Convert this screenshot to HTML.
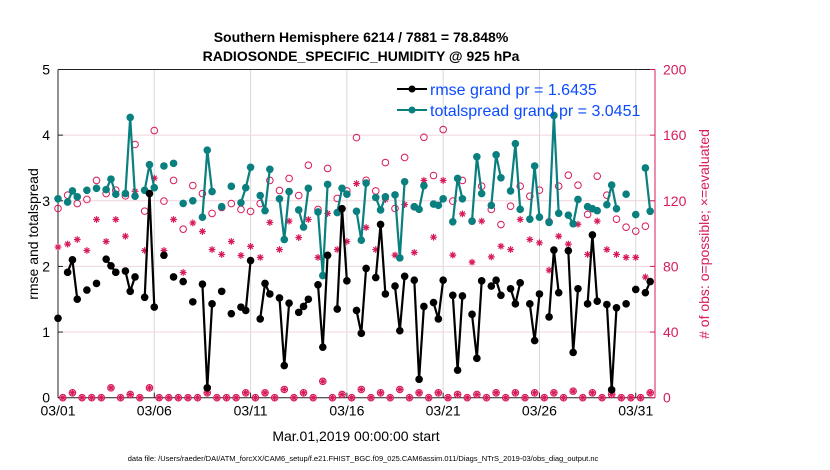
<!DOCTYPE html>
<html><head><meta charset="utf-8"><style>
body{margin:0;background:#fff;}
svg{display:block;font-family:"Liberation Sans",sans-serif;}
</style></head><body>
<svg id="chart" width="830" height="470" viewBox="0 0 830 470">
<text x="361" y="42" text-anchor="middle" font-size="14" font-weight="bold">Southern Hemisphere 6214 / 7881 = 78.848%</text>
<text x="361" y="61" text-anchor="middle" font-size="14" font-weight="bold">RADIOSONDE_SPECIFIC_HUMIDITY @ 925 hPa</text>
<text transform="translate(38,234) rotate(-90)" text-anchor="middle" font-size="14">rmse and totalspread</text>
<text transform="translate(709,234) rotate(-90)" text-anchor="middle" font-size="14" fill="#d81b5a"># of obs: o=possible; ×=evaluated</text>
<text x="356" y="441" text-anchor="middle" font-size="14">Mar.01,2019 00:00:00 start</text>
<text x="363" y="461" text-anchor="middle" font-size="7.5">data file: /Users/raeder/DAI/ATM_forcXX/CAM6_setup/f.e21.FHIST_BGC.f09_025.CAM6assim.011/Diags_NTrS_2019-03/obs_diag_output.nc</text>
<g id="plot"></g>
<g>
<g>
<line x1="397" y1="89" x2="427" y2="89" stroke="#000" stroke-width="2"/>
<circle cx="412" cy="89" r="3.5" fill="#000"/>
<text x="430" y="95" font-size="16" fill="#0a4bff">rmse grand pr = 1.6435</text>
</g>
<g>
<line x1="397" y1="110" x2="427" y2="110" stroke="#0a7f7f" stroke-width="2"/>
<circle cx="412" cy="110" r="3.5" fill="#0a7f7f"/>
<text x="430" y="116" font-size="16" fill="#0a4bff">totalspread grand pr = 3.0451</text>
</g>
</g>
</svg>
<script>
const rmse=[1.21,null,1.91,2.10,1.50,null,1.64,null,1.74,null,
2.11,2.01,1.91,null,1.93,1.62,1.84,null,1.53,3.11,
1.38,null,2.17,null,1.84,null,1.77,null,1.46,null,
1.73,0.15,1.43,null,1.62,null,1.28,null,1.38,1.33,
2.09,null,1.20,1.74,1.58,null,1.52,0.49,1.44,null,
1.30,1.39,1.50,null,1.72,0.77,2.17,null,1.35,2.88,
1.78,null,1.33,0.98,1.97,null,1.83,2.64,1.58,null,
1.70,1.02,1.85,null,1.79,0.28,1.39,null,1.45,1.20,
1.79,null,1.56,0.42,1.55,null,1.27,0.60,1.78,null,
1.70,1.79,1.56,null,1.66,1.43,1.75,null,1.43,0.87,
1.58,null,1.23,2.25,1.60,null,2.24,0.69,1.66,null,
1.43,2.48,1.47,null,1.42,0.12,1.37,null,1.43,null,
1.65,null,1.60,1.77];
const spread=[3.03,null,2.98,3.15,3.06,null,3.16,null,3.19,null,
3.17,3.33,3.10,null,3.11,4.27,3.07,null,3.16,3.55,
3.20,null,3.53,null,3.57,null,2.96,null,3.00,null,
2.75,3.77,3.14,null,2.91,null,3.22,null,2.97,3.20,
3.51,null,3.08,2.85,3.48,null,3.03,2.41,3.14,null,
2.86,2.60,3.19,null,2.83,1.86,3.25,null,2.82,3.19,
3.10,null,2.84,2.40,3.27,null,3.05,2.86,3.06,null,
3.09,2.13,3.29,null,2.91,2.87,3.23,null,2.95,2.93,
3.03,null,2.68,3.34,3.03,null,2.69,3.67,3.11,null,
2.93,3.70,3.35,null,3.15,3.87,2.87,null,2.72,3.53,
2.75,null,2.67,4.30,2.81,null,2.78,2.65,3.02,null,
2.91,2.88,2.85,null,2.94,3.24,2.88,null,3.10,null,
2.79,null,3.50,2.84];
const possible=[115.3,0,123.4,3,118.3,0,120.8,0,132.4,0,
124.4,6,126.5,0,123,2,154.3,0,113.7,6,
162.8,0,119.8,0,132.4,0,102.7,0,129.3,0,
124.4,3,112.3,0,115.9,0,118.3,0,114.7,3,
113.5,0,118.3,3,132.4,0,126.3,5,133.6,0,
123.2,3,141.7,0,114.7,10,139.7,0,121.4,2,
126,0,158.5,5,132.5,0,126,3,143.3,0,
115.3,5,146.4,0,116.3,3,158.7,0,135.4,3,
163.4,0,119.8,2,132.4,0,107.6,2,128.9,0,
114.7,3,105.5,0,116.7,3,128.9,0,122.8,3,
126.5,0,107.2,3,128.9,0,135.6,4,129.5,0,
111.7,3,135,0,123.4,2,108.8,0,103.9,0,
101.5,0,104.5,3];
const evaluated=[91.8,0,93.6,3,96.4,0,89.7,0,108.6,0,
95.2,6,108.6,0,98.4,2,125.8,0,89.7,6,
133.8,0,89.7,0,108.6,0,76.3,0,106.5,0,
101.3,3,90.3,0,87.3,0,95.2,0,86.7,3,
92.2,0,85.5,3,106.8,0,90.3,5,107.6,0,
97.6,3,108.6,0,85.5,10,112.3,0,90.3,2,
95.2,0,130.5,5,103.7,0,90.3,3,120.8,0,
86.9,5,117.7,0,88.5,3,132.4,0,97.8,3,
132.4,0,86.9,2,112,0,82.6,2,107.6,0,
85.8,3,92.3,0,90.3,3,108.6,0,96.4,3,
94.4,0,77.7,3,98.4,0,93.6,4,105.7,0,
87.3,3,107.6,0,90.3,2,87.3,0,85.5,0,
85.5,0,73.5,3];
const xTickDays=[0,5,10,15,20,25,30];
const xTickLabels=["03/01","03/06","03/11","03/16","03/21","03/26","03/31"];
const leftTicks=[0,1,2,3,4,5];
const rightTicks=[0,40,80,120,160,200];

const L=58,R=655,T=69.5,B=397.7,DAYS=31,SLOTS_PER_DAY=4;
const xDay=d=>L+(R-L)*d/DAYS;
const xSlot=k=>xDay(k/SLOTS_PER_DAY);
const yL=v=>B-(B-T)*v/5;
const yR=v=>B-(B-T)*v/200;
const NS="http://www.w3.org/2000/svg";
const g=document.getElementById('plot');
function mk(tag,attrs,parent){const e=document.createElementNS(NS,tag);for(const k in attrs)e.setAttribute(k,attrs[k]);(parent||g).appendChild(e);return e;}
const RED="#d81b5a",TEAL="#0a7f7f";

// grid
xTickDays.forEach((d,i)=>{
 const gl=mk('line',{x1:xDay(d),x2:xDay(d),y1:T,y2:B,stroke:'#d9d9d9','stroke-width':1});
 
 
});
rightTicks.forEach(v=>{
 if(v===0||v===200)return;
 const gl=mk('line',{x1:L,x2:R,y1:yR(v),y2:yR(v),stroke:'#f0d4de','stroke-width':1});
 
 
});
// axes
const axL=mk('line',{x1:L,x2:L,y1:T,y2:B,stroke:'#222','stroke-width':1});


const axB=mk('line',{x1:L,x2:R,y1:B,y2:B,stroke:'#222','stroke-width':1});


const axT=mk('line',{x1:L,x2:R,y1:T,y2:T,stroke:'#222','stroke-width':1});


const axR=mk('line',{x1:R,x2:R,y1:T,y2:B,stroke:RED,'stroke-width':1});



xTickDays.forEach((d,i)=>{
 mk('line',{x1:xDay(d),x2:xDay(d),y1:B,y2:B-5,stroke:'#222'});
 const t=mk('text',{x:xDay(d),y:B+18,'text-anchor':'middle','font-size':14});
 t.textContent=xTickLabels[i];
 
 
});
leftTicks.forEach(v=>{
 mk('line',{x1:L,x2:L+5,y1:yL(v),y2:yL(v),stroke:'#222'});
 const t=mk('text',{x:L-8,y:yL(v)+5,'text-anchor':'end','font-size':14});
 t.textContent=v;
 
 
});
rightTicks.forEach(v=>{
 mk('line',{x1:R,x2:R-5,y1:yR(v),y2:yR(v),stroke:RED});
 const t=mk('text',{x:R+8,y:yR(v)+5,'font-size':14,fill:RED});
 t.textContent=v;
 
 
});

// obs counts
possible.forEach((v,k)=>{
 const c=mk('circle',{cx:xSlot(k),cy:yR(v),r:3.3,fill:'none',stroke:RED,'stroke-width':1});
 
 
});
evaluated.forEach((v,k)=>{
 const x=xSlot(k),y=yR(v),s=3.4;
 const p=mk('path',{d:`M${x-s},${y}H${x+s}M${x},${y-s}V${y+s}M${x-s*0.7},${y-s*0.7}L${x+s*0.7},${y+s*0.7}M${x-s*0.7},${y+s*0.7}L${x+s*0.7},${y-s*0.7}`,stroke:RED,'stroke-width':1.2});
 
 
});

function series(arr,color,name){
 let d='',pen=false;
 arr.forEach((v,k)=>{
  if(v===null){pen=false;return;}
  d+=(pen?'L':'M')+xSlot(k).toFixed(1)+','+yL(v).toFixed(1);pen=true;
 });
 const p=mk('path',{d:d,fill:'none',stroke:color,'stroke-width':2.2,'stroke-linejoin':'round'});
 
 
 arr.forEach((v,k)=>{
  if(v===null)return;
  const c=mk('circle',{cx:xSlot(k),cy:yL(v),r:3.8,fill:color});
  
  
 });
}
series(spread,TEAL,'totalspread');
series(rmse,'#000','rmse');
</script>
</body></html>
